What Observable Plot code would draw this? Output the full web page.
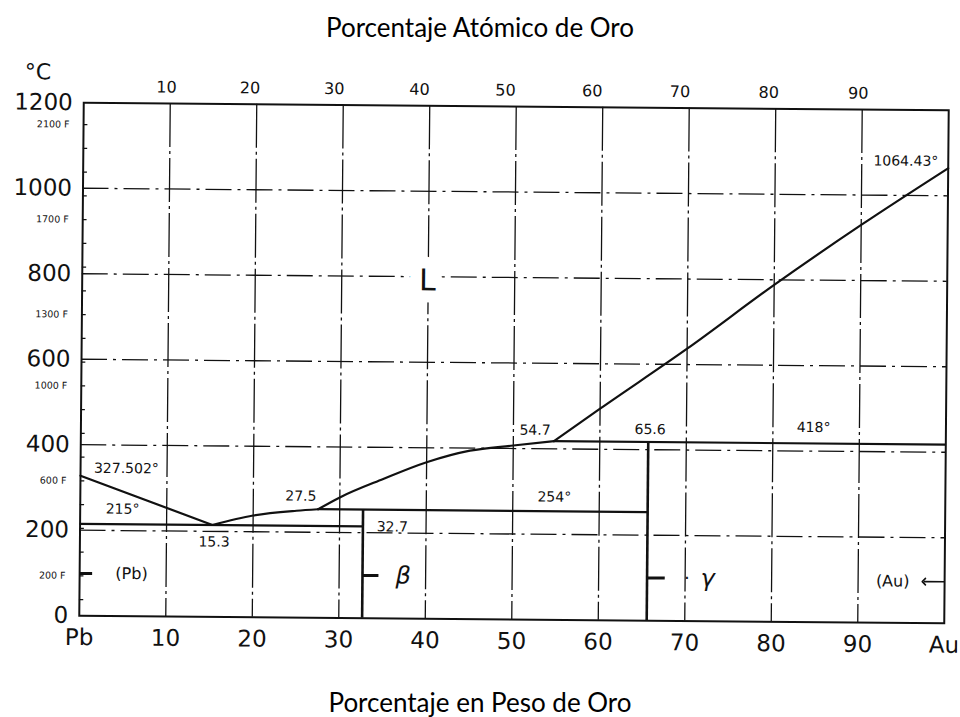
<!DOCTYPE html>
<html><head><meta charset="utf-8">
<script src="https://cdn.jsdelivr.net/npm/d3@7"></script>
<script src="https://cdn.jsdelivr.net/npm/@observablehq/plot@0.6"></script>
<style>
html,body{margin:0;padding:0;background:#fff;}
#wrap{position:relative;width:960px;height:717px;background:#fff;}
.title{position:absolute;left:0;width:960px;text-align:center;font-family:Lato,"Open Sans",sans-serif;font-size:26px;line-height:26px;color:#000;white-space:nowrap;}
#chart{position:absolute;left:0;top:50px;}
#chart svg{transform:rotate(0.5deg);transform-origin:513.5px 312.5px;background:transparent;}
</style></head>
<body>
<div id="wrap">
  <div class="title" style="top:14px">Porcentaje Atómico de Oro</div>
  <div id="chart"></div>
  <div class="title" style="top:689px">Porcentaje en Peso de Oro</div>
</div>
<script>
// ---- axis ticks & labels ----
const weightTicks = [0, 10, 20, 30, 40, 50, 60, 70, 80, 90, 100];
const weightLabels = ["Pb", "10", "20", "30", "40", "50", "60", "70", "80", "90", "Au"];
const atomicTicks = [10, 20, 30, 40, 50, 60, 70, 80, 90];
const tempTicks = [0, 200, 400, 600, 800, 1000, 1200];
const fahrenheitLabels = [2100, 1700, 1300, 1000, 600, 200];
const gridTemps = [200, 400, 600, 800, 1000];
const gridWeights = [10, 20, 30, 40, 50, 60, 70, 80, 90];
const AU_MASS = 196.97, PB_MASS = 207.2;

// ---- phase boundaries (wt% Au, °C) ----
const liquidusPb = [[0, 327.502], [15.3, 215]];
const liquidusEut = [[15.3, 215], [20, 238], [25, 250], [27.5, 254]];
const liquidusMid = [[27.5, 254], [30, 282], [35, 326], [40, 366], [45, 394], [50, 407], [54.7, 418]];
const liquidusAu = [[54.7, 418], [60, 495], [70, 637], [80, 788], [90, 930], [100, 1064.43]];
const isoFrom = [0, 27.5, 54.7];
const isoTo = [32.7, 65.6, 100];
const isoTemp = [215, 254, 418];
const compoundWt = [32.7, 65.6];
const compoundTop = [254, 418];

// ---- annotations ----
const noteText = ["327.502°", "215°", "15.3", "27.5", "32.7", "54.7", "254°", "65.6", "418°", "1064.43°"];
const noteWt = [5.3, 4.9, 15.5, 25.5, 36.1, 52.5, 54.8, 65.8, 84.7, 95.1];
const noteTemp = [345, 250, 175, 284, 214, 443, 287, 447, 455, 1080];
const phaseText = ["L", "β", "γ"];
const phaseWt = [39.9, 37.4, 72.6];
const phaseTemp = [791, 100, 100];
const sideText = ["(Pb)", "(Au)"];
const sideWt = [6.0, 94.0];
const sideTemp = [99, 97];
const markerFrom = [0, 32.7, 65.6];
const markerTo = [1.5, 34.6, 67.7];
const markerTemp = [99, 100, 100];

const toWt = a => 100 * a * AU_MASS / (a * AU_MASS + (100 - a) * PB_MASS);
const fToC = f => (f - 32) * 5 / 9;
const fMinor = d3.range(100, 2200, 100).map(fToC);
const pts = arr => arr.map(([w, t]) => ({w, t}));
const iso = isoTemp.map((t, i) => ({t, x1: isoFrom[i], x2: isoTo[i]}));
const comp = compoundWt.map((w, i) => ({w, t: compoundTop[i]}));
const notes = noteText.map((s, i) => ({s, w: noteWt[i], t: noteTemp[i]}));
const markers = markerTemp.map((t, i) => ({t, x1: markerFrom[i], x2: markerTo[i]}));

const ink = "#111";
const chart = Plot.plot({
  width: 960, height: 630,
  marginLeft: 81, marginRight: 14, marginTop: 56, marginBottom: 61,
  x: {domain: [0, 100], axis: null},
  y: {domain: [0, 1200], axis: null},
  style: {fontFamily: "DejaVu Sans", background: "transparent", color: ink},
  marks: [
    Plot.ruleX(gridWeights, {stroke: ink, strokeWidth: 1.3, strokeDasharray: "44,4,3,4"}),
    Plot.ruleY(gridTemps, {stroke: ink, strokeWidth: 1.3, strokeDasharray: "26,6,3,6"}),
    Plot.ruleY(fMinor, {x1: 0, x2: 0.5, stroke: ink, strokeWidth: 1.3}),
    Plot.text([phaseText[0]], {x: () => phaseWt[0], y: () => phaseTemp[0], text: d => d, fontSize: 30, fill: ink, stroke: "white", strokeWidth: 24}),
    Plot.ruleY(iso, {y: "t", x1: "x1", x2: "x2", stroke: ink, strokeWidth: 2.2}),
    Plot.ruleX(comp, {x: "w", y1: 0, y2: "t", stroke: ink, strokeWidth: 2.6}),
    Plot.line(pts(liquidusPb), {x: "w", y: "t", stroke: ink, strokeWidth: 2.2}),
    Plot.line(pts(liquidusEut), {x: "w", y: "t", stroke: ink, strokeWidth: 2.2, curve: "monotone-x"}),
    Plot.line(pts(liquidusMid), {x: "w", y: "t", stroke: ink, strokeWidth: 2.2, curve: "monotone-x"}),
    Plot.line(pts(liquidusAu), {x: "w", y: "t", stroke: ink, strokeWidth: 2.2, curve: "monotone-x"}),
    Plot.ruleY(markers, {y: "t", x1: "x1", x2: "x2", stroke: ink, strokeWidth: 3}),
    Plot.link([0], {x1: () => 100, x2: () => 97.6, y1: () => sideTemp[1], y2: () => sideTemp[1], stroke: ink, strokeWidth: 1.6, markerEnd: "arrow"}),
    Plot.frame({stroke: ink, strokeWidth: 2}),
    // annotations
    Plot.text(notes, {x: "w", y: "t", text: "s", fontSize: 14, fill: ink}),
    Plot.text(phaseText.slice(1), {x: (d, i) => phaseWt[i + 1], y: (d, i) => phaseTemp[i + 1], text: d => d, fontSize: 24, fontStyle: "italic", fill: ink}),
    Plot.text(["·"], {x: () => 70.2, y: () => 100, text: d => d, fontSize: 18, fill: ink}),
    Plot.text(sideText, {x: (d, i) => sideWt[i], y: (d, i) => sideTemp[i], text: d => d, fontSize: 16, fill: ink}),
    // axes
    Plot.text(weightLabels, {x: (d, i) => weightTicks[i], y: () => 0, text: d => d, dy: 22, fontSize: 23, fill: ink}),
    Plot.text(atomicTicks, {x: d => toWt(d), y: () => 1200, text: d => String(d), dy: -16, fontSize: 16, fill: ink}),
    Plot.text(tempTicks, {x: () => 0, y: d => d, text: d => String(d), textAnchor: "end", dx: -11, fontSize: 23, fill: ink}),
    Plot.text(fahrenheitLabels, {x: () => 0, y: d => fToC(d), text: d => d + " F", textAnchor: "end", dx: -14, fontSize: 9.5, fill: ink}),
    Plot.text(["°C"], {x: () => 0, y: () => 1200, text: d => d, dx: -46, dy: -30, fontSize: 22, fill: ink})
  ]
});
document.getElementById("chart").appendChild(chart);
</script>
</body></html>
